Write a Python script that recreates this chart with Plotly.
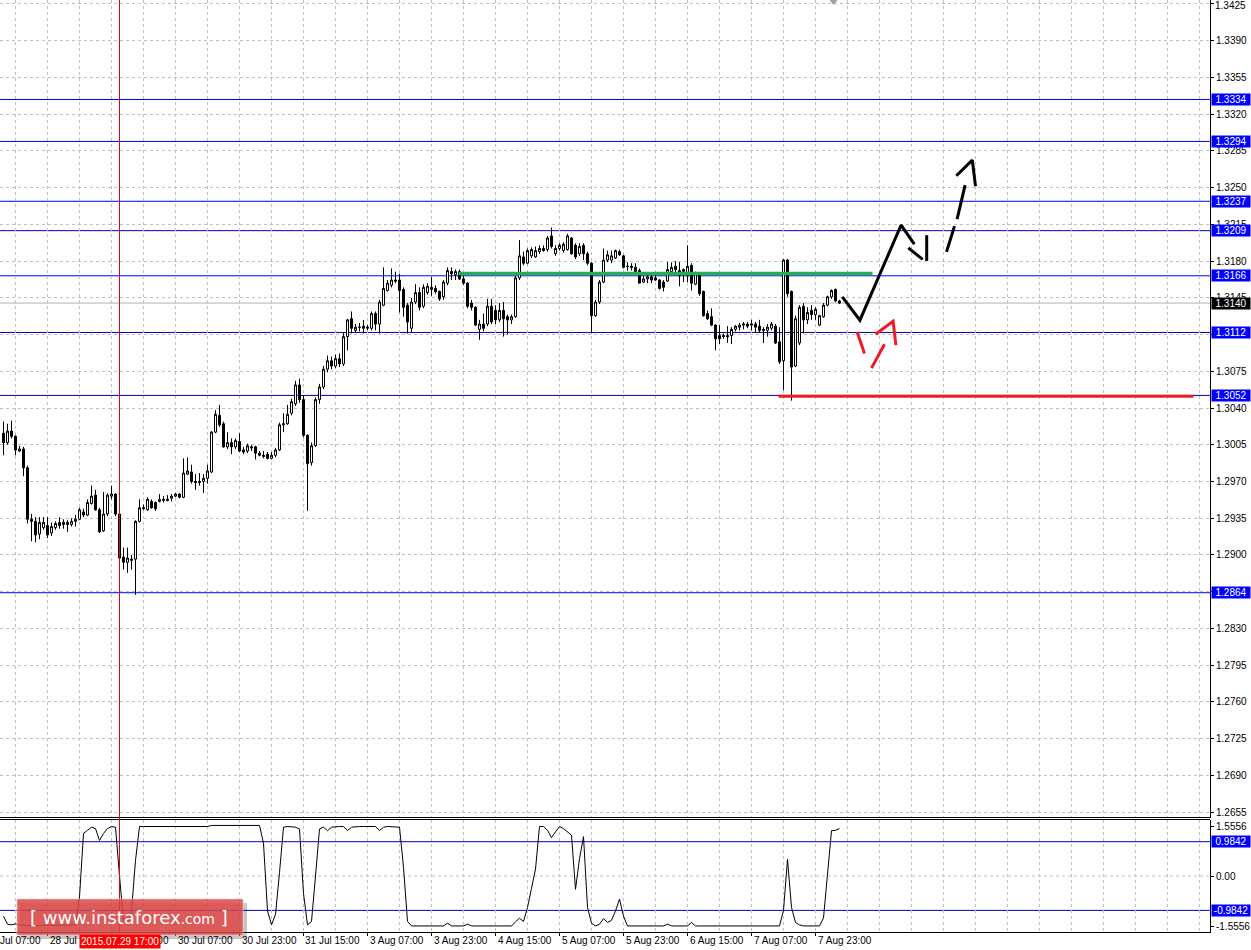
import plotly.graph_objects as go

# ---------------- data ----------------
OPEN = [1.3016,1.3007,1.3018,1.3013,1.2999,1.3001,1.2983,1.2934,1.2932,1.2920,
        1.2926,1.2928,1.2921,1.2926,1.2931,1.2929,1.2931,1.2929,1.2932,1.2934,
        1.2941,1.2938,1.2949,1.2957,1.2943,1.2923,1.2939,1.2956,1.2958,1.2939,
        1.2898,1.2893,1.2896,1.2896,1.2932,1.2944,1.2943,1.2951,1.2950,1.2951,
        1.2952,1.2953,1.2954,1.2956,1.2958,1.2955,1.2977,1.2979,1.2970,1.2969,
        1.2970,1.2973,1.2979,1.3017,1.3033,1.3025,1.3003,1.3007,1.3003,1.3008,
        1.3000,1.2999,1.3003,1.3003,1.2997,1.2995,1.2996,1.2992,1.2995,1.3000,
        1.3024,1.3025,1.3035,1.3044,1.3062,1.3048,1.3014,1.2988,1.3004,1.3048,
        1.3060,1.3077,1.3085,1.3080,1.3087,1.3082,1.3108,1.3125,1.3114,1.3117,
        1.3118,1.3116,1.3116,1.3130,1.3120,1.3138,1.3152,1.3157,1.3162,1.3162,
        1.3153,1.3138,1.3116,1.3141,1.3150,1.3137,1.3150,1.3155,1.3154,1.3151,
        1.3146,1.3159,1.3170,1.3167,1.3170,1.3163,1.3159,1.3140,1.3136,1.3115,
        1.3120,1.3120,1.3137,1.3133,1.3124,1.3133,1.3127,1.3124,1.3127,1.3164,
        1.3184,1.3178,1.3185,1.3184,1.3189,1.3192,1.3191,1.3204,1.3187,1.3192,
        1.3190,1.3191,1.3202,1.3195,1.3187,1.3195,1.3187,1.3178,1.3128,1.3141,
        1.3160,1.3181,1.3181,1.3183,1.3189,1.3185,1.3175,1.3175,1.3174,1.3171,
        1.3160,1.3163,1.3165,1.3164,1.3162,1.3160,1.3161,1.3170,1.3175,1.3171,
        1.3170,1.3166,1.3176,1.3158,1.3167,1.3151,1.3130,1.3127,1.3119,1.3109,
        1.3108,1.3109,1.3109,1.3115,1.3117,1.3119,1.3120,1.3119,1.3120,1.3118,
        1.3115,1.3114,1.3116,1.3118,1.3103,1.3085,1.3181,1.3151,1.3080,1.3102,
        1.3137,1.3124,1.3133,1.3129,1.3119,1.3127,1.3138,1.3146,1.3153,1.3142]
HIGH = [1.3027,1.3025,1.3028,1.3014,1.3004,1.3003,1.2985,1.2939,1.2936,1.2936,
        1.2936,1.2936,1.2931,1.2932,1.2936,1.2934,1.2933,1.2935,1.2938,1.2945,
        1.2944,1.2953,1.2966,1.2962,1.2945,1.2960,1.2959,1.2966,1.2959,1.2941,
        1.2907,1.2907,1.2900,1.2933,1.2953,1.2948,1.2955,1.2953,1.2951,1.2958,
        1.2956,1.2957,1.2958,1.2959,1.2959,1.2992,1.2993,1.2986,1.2977,1.2978,
        1.2977,1.2986,1.3018,1.3038,1.3043,1.3027,1.3017,1.3011,1.3011,1.3016,
        1.3003,1.3006,1.3005,1.3004,1.2999,1.2999,1.2998,1.2998,1.3002,1.3026,
        1.3035,1.3043,1.3049,1.3066,1.3068,1.3052,1.3015,1.3007,1.3050,1.3063,
        1.3080,1.3090,1.3089,1.3091,1.3092,1.3112,1.3125,1.3132,1.3120,1.3121,
        1.3124,1.3119,1.3132,1.3132,1.3143,1.3174,1.3162,1.3173,1.3170,1.3168,
        1.3155,1.3140,1.3145,1.3158,1.3155,1.3158,1.3159,1.3165,1.3157,1.3152,
        1.3162,1.3174,1.3174,1.3172,1.3172,1.3166,1.3160,1.3143,1.3137,1.3124,
        1.3130,1.3144,1.3144,1.3138,1.3140,1.3141,1.3129,1.3129,1.3166,1.3200,
        1.3189,1.3192,1.3193,1.3194,1.3195,1.3195,1.3204,1.3212,1.3195,1.3197,
        1.3198,1.3206,1.3203,1.3197,1.3197,1.3197,1.3189,1.3179,1.3143,1.3162,
        1.3192,1.3190,1.3190,1.3191,1.3191,1.3186,1.3179,1.3178,1.3178,1.3173,
        1.3166,1.3168,1.3168,1.3167,1.3163,1.3162,1.3179,1.3179,1.3180,1.3179,
        1.3173,1.3195,1.3178,1.3170,1.3168,1.3152,1.3133,1.3135,1.3120,1.3119,
        1.3111,1.3118,1.3117,1.3119,1.3121,1.3122,1.3122,1.3124,1.3122,1.3124,
        1.3117,1.3120,1.3122,1.3120,1.3117,1.3182,1.3182,1.3152,1.3128,1.3138,
        1.3140,1.3136,1.3138,1.3136,1.3129,1.3140,1.3147,1.3153,1.3154,1.3143]
LOW = [1.2995,1.3005,1.3011,1.2995,1.2998,1.2975,1.2930,1.2913,1.2912,1.2915,
       1.2924,1.2916,1.2918,1.2924,1.2925,1.2925,1.2922,1.2927,1.2927,1.2933,
       1.2936,1.2937,1.2948,1.2942,1.2921,1.2922,1.2937,1.2953,1.2937,1.2895,
       1.2886,1.2883,1.2886,1.2862,1.2931,1.2943,1.2942,1.2944,1.2942,1.2950,
       1.2950,1.2951,1.2951,1.2955,1.2954,1.2954,1.2976,1.2968,1.2962,1.2966,
       1.2959,1.2968,1.2978,1.3016,1.3022,1.3002,1.3001,1.2996,1.3001,1.2998,
       1.2996,1.2997,1.2999,1.2991,1.2994,1.2992,1.2991,1.2991,1.2993,1.2999,
       1.3017,1.3024,1.3033,1.3042,1.3045,1.3012,1.2942,1.2985,1.3003,1.3044,
       1.3058,1.3074,1.3077,1.3078,1.3079,1.3080,1.3095,1.3111,1.3112,1.3113,
       1.3111,1.3114,1.3114,1.3114,1.3111,1.3137,1.3151,1.3155,1.3159,1.3131,
       1.3127,1.3111,1.3112,1.3139,1.3133,1.3135,1.3148,1.3147,1.3149,1.3142,
       1.3143,1.3157,1.3162,1.3162,1.3162,1.3157,1.3135,1.3133,1.3118,1.3105,
       1.3113,1.3118,1.3120,1.3120,1.3122,1.3108,1.3110,1.3120,1.3126,1.3162,
       1.3176,1.3177,1.3183,1.3183,1.3187,1.3189,1.3189,1.3192,1.3185,1.3190,
       1.3188,1.3190,1.3186,1.3182,1.3185,1.3181,1.3176,1.3111,1.3127,1.3139,
       1.3159,1.3179,1.3178,1.3182,1.3185,1.3173,1.3171,1.3171,1.3168,1.3159,
       1.3159,1.3159,1.3159,1.3161,1.3153,1.3151,1.3160,1.3168,1.3167,1.3156,
       1.3160,1.3160,1.3152,1.3157,1.3147,1.3127,1.3124,1.3118,1.3095,1.3101,
       1.3106,1.3102,1.3101,1.3113,1.3114,1.3115,1.3116,1.3114,1.3112,1.3112,
       1.3102,1.3108,1.3114,1.3101,1.3082,1.3057,1.3146,1.3047,1.3079,1.3100,
       1.3111,1.3120,1.3124,1.3124,1.3118,1.3126,1.3137,1.3144,1.3141,1.3139]
CLOSE = [1.3007,1.3018,1.3013,1.3000,1.3001,1.2983,1.2934,1.2932,1.2919,1.2931,
         1.2931,1.2919,1.2927,1.2930,1.2928,1.2931,1.2929,1.2932,1.2934,1.2943,
         1.2938,1.2950,1.2956,1.2943,1.2922,1.2939,1.2957,1.2958,1.2939,1.2897,
         1.2893,1.2897,1.2895,1.2932,1.2945,1.2945,1.2953,1.2945,1.2944,1.2953,
         1.2953,1.2952,1.2956,1.2958,1.2955,1.2978,1.2980,1.2970,1.2969,1.2970,
         1.2973,1.2980,1.3017,1.3034,1.3024,1.3003,1.3007,1.3003,1.3009,1.2999,
         1.2998,1.3004,1.3002,1.2997,1.2995,1.2994,1.2992,1.2995,1.3000,1.3024,
         1.3025,1.3034,1.3046,1.3062,1.3048,1.3014,1.2987,1.3004,1.3048,1.3060,
         1.3077,1.3085,1.3080,1.3087,1.3082,1.3108,1.3124,1.3116,1.3117,1.3117,
         1.3116,1.3117,1.3130,1.3120,1.3141,1.3154,1.3159,1.3162,1.3161,1.3152,
         1.3136,1.3122,1.3141,1.3150,1.3136,1.3155,1.3156,1.3153,1.3151,1.3144,
         1.3160,1.3171,1.3168,1.3170,1.3163,1.3159,1.3137,1.3136,1.3119,1.3120,
         1.3116,1.3137,1.3122,1.3124,1.3133,1.3125,1.3124,1.3127,1.3164,1.3185,
         1.3178,1.3190,1.3191,1.3190,1.3192,1.3190,1.3202,1.3194,1.3192,1.3195,
         1.3196,1.3204,1.3187,1.3184,1.3194,1.3187,1.3178,1.3128,1.3141,1.3160,
         1.3181,1.3186,1.3185,1.3190,1.3186,1.3174,1.3175,1.3174,1.3170,1.3159,
         1.3163,1.3165,1.3162,1.3162,1.3154,1.3155,1.3172,1.3174,1.3172,1.3166,
         1.3172,1.3175,1.3159,1.3168,1.3149,1.3128,1.3125,1.3119,1.3106,1.3106,
         1.3109,1.3108,1.3115,1.3118,1.3119,1.3120,1.3118,1.3120,1.3117,1.3114,
         1.3114,1.3117,1.3120,1.3102,1.3084,1.3181,1.3149,1.3079,1.3125,1.3136,
         1.3124,1.3131,1.3129,1.3134,1.3128,1.3138,1.3146,1.3152,1.3142,1.3140]
BARS = list(range(len(CLOSE)))

INDICATOR = [-1.15,-1.38,-1.40,-1.37,-1.40,-1.42,-1.42,-1.42,-1.42,-1.42,
             -1.42,-1.42,-1.42,-1.42,-1.42,-1.42,-1.42,-1.42,-1.40,-0.60,
             1.22,1.31,1.40,1.36,1.02,1.22,1.36,1.42,1.40,0.00,
             -1.30,-1.40,-1.00,0.45,1.42,1.42,1.42,1.42,1.42,1.42,
             1.42,1.42,1.42,1.42,1.42,1.42,1.42,1.42,1.42,1.42,
             1.42,1.42,1.45,1.45,1.45,1.45,1.45,1.45,1.45,1.45,
             1.45,1.45,1.45,1.45,1.45,0.94,-1.00,-1.40,-1.10,0.10,
             1.40,1.42,1.42,1.40,1.35,-0.50,-1.40,-1.30,0.00,1.35,
             1.40,1.30,1.40,1.42,1.42,1.42,1.30,1.40,1.42,1.42,
             1.42,1.42,1.42,1.42,1.30,1.40,1.42,1.42,1.42,1.40,
             0.25,-1.30,-1.43,-1.43,-1.43,-1.43,-1.43,-1.43,-1.43,-1.43,
             -1.43,-1.35,-1.43,-1.43,-1.43,-1.43,-1.38,-1.43,-1.43,-1.43,
             -1.43,-1.43,-1.43,-1.43,-1.43,-1.43,-1.43,-1.43,-1.31,-1.21,
             -1.30,-0.90,-0.35,0.20,1.42,1.42,1.31,1.10,1.27,1.42,
             1.36,1.27,1.17,-0.38,0.50,1.13,-0.90,-1.35,-1.43,-1.38,
             -1.22,-1.33,-1.27,-1.00,-0.66,-1.15,-1.43,-1.43,-1.43,-1.43,
             -1.43,-1.43,-1.43,-1.43,-1.43,-1.43,-1.38,-1.43,-1.43,-1.43,
             -1.43,-1.43,-1.33,-1.43,-1.43,-1.43,-1.43,-1.43,-1.43,-1.43,
             -1.43,-1.43,-1.43,-1.43,-1.43,-1.43,-1.43,-1.43,-1.43,-1.43,
             -1.43,-1.43,-1.43,-1.43,-1.43,-0.98,0.48,-0.90,-1.33,-1.40,
             -1.43,-1.43,-1.43,-1.43,-1.43,-1.20,-0.05,1.30,1.31,1.36]

PRICE_TICKS = [1.2655,1.2690,1.2725,1.2760,1.2795,1.2830,1.2865,1.2900,1.2935,1.2970,
               1.3005,1.3040,1.3075,1.3110,1.3145,1.3180,1.3215,1.3250,1.3285,1.3320,
               1.3355,1.3390,1.3425]
LEVELS_BLUE = [1.3334, 1.3294, 1.3237, 1.3166, 1.2864]
LEVELS_DARK = [1.3209, 1.3112, 1.3052]
CURRENT_PRICE = 1.3140
IND_LEVELS = [0.9842, -0.9842]
IND_TICK_TEXT = ["1.5556", "0.00", "-1.5556"]
IND_TICK_POS = [1.421, 0.0, -1.432]

TIME_TICK_BARS = [-5, 11, 27, 43, 59, 75, 91, 107, 123, 139, 155, 171, 187, 203]
TIME_TICK_TEXT = ["28 Jul 07:00", "28 Jul 23:00", "29 Jul 15:00", "30 Jul 07:00",
                  "30 Jul 23:00", "31 Jul 15:00", "3 Aug 07:00", "3 Aug 23:00",
                  "4 Aug 15:00", "5 Aug 07:00", "5 Aug 23:00", "6 Aug 15:00",
                  "7 Aug 07:00", "7 Aug 23:00"]
CROSS_BAR = 29
CROSS_TEXT = "2015.07.29 17:00"
SHIFT_MARK_BAR = 207.5

GREEN_SEG_BARS = [113.75, 217.25]
GREEN_SEG_PRICE = 1.31682
RED_SEG_BARS = [193.75, 297.5]
RED_SEG_PRICE = 1.30512

BLACK_STROKES = [
    ([209.7, 214.1, 224.4, 227.7], [1.31459, 1.31237, 1.32143, 1.31962]),
    ([226.2, 229.8], [1.31926, 1.31816]),
    ([230.8, 230.8], [1.32047, 1.31802]),
    ([235.75, 237.75], [1.31888, 1.32133]),
    ([238.4, 240.4], [1.32200, 1.32524]),
    ([238.2, 242.2, 243.0], [1.32613, 1.32762, 1.32515]),
]
RED_STROKES = [
    ([213.4, 215.25], [1.31125, 1.30919]),
    ([217.0, 220.25], [1.30782, 1.31008]),
    ([218.0, 222.4, 223.1], [1.31103, 1.31227, 1.30999]),
]

# ---------------- layout geometry ----------------
W, H = 1251, 950
PW, PH = 1210, 932          # plot area in px
PX_PER_BAR = 4.0
MAIN_BOTTOM_PX = 817.5
IND_TOP_PX = 819.5
X_RANGE = [-0.875, -0.875 + PW / PX_PER_BAR]
FONT = "Liberation Sans, Arial, sans-serif"
GRID = "#c0c0c0"


def py(px):
    return 1 - px / PH


def px_x(px):
    return px / PW


def bar_to_paper(b):
    return (b - X_RANGE[0]) * PX_PER_BAR / PW


fig = go.Figure()

fig.add_trace(go.Candlestick(
    x=BARS, open=OPEN, high=HIGH, low=LOW, close=CLOSE,
    increasing=dict(line=dict(color="black", width=1), fillcolor="white"),
    decreasing=dict(line=dict(color="black", width=1), fillcolor="black"),
    whiskerwidth=0, showlegend=False, hoverinfo="skip",
    xaxis="x", yaxis="y"))

fig.add_trace(go.Scatter(x=BARS, y=INDICATOR, mode="lines",
                         line=dict(color="black", width=1),
                         showlegend=False, hoverinfo="skip",
                         xaxis="x", yaxis="y2"))

# green & red horizontal segments
fig.add_trace(go.Scatter(x=GREEN_SEG_BARS, y=[GREEN_SEG_PRICE] * 2, mode="lines",
                         line=dict(color="#22b14c", width=3.5), showlegend=False,
                         hoverinfo="skip", xaxis="x", yaxis="y"))
fig.add_trace(go.Scatter(x=RED_SEG_BARS, y=[RED_SEG_PRICE] * 2, mode="lines",
                         line=dict(color="#ed1c24", width=3), showlegend=False,
                         hoverinfo="skip", xaxis="x", yaxis="y"))

for bx, by in BLACK_STROKES:
    fig.add_trace(go.Scatter(x=bx, y=by, mode="lines",
                             line=dict(color="black", width=3), showlegend=False,
                             hoverinfo="skip", xaxis="x", yaxis="y"))
for bx, by in RED_STROKES:
    fig.add_trace(go.Scatter(x=bx, y=by, mode="lines",
                             line=dict(color="#ed1c24", width=3), showlegend=False,
                             hoverinfo="skip", xaxis="x", yaxis="y"))

shapes = []
annotations = []

# horizontal levels
for lv in LEVELS_BLUE + LEVELS_DARK:
    col = "#0000ff" if lv in LEVELS_BLUE else "#0000b0"
    shapes.append(dict(type="line", xref="paper", yref="y", x0=0, x1=1, y0=lv, y1=lv,
                       line=dict(color=col, width=1), layer="below"))
    annotations.append(dict(xref="paper", x=1, xanchor="left", xshift=1, yref="y", y=lv,
                            yanchor="middle", text=f"{lv:.4f}", showarrow=False,
                            font=dict(color="white", size=10, family=FONT),
                            bgcolor="#0000ff", width=38, height=11, borderpad=0,
                            align="center"))
shapes.append(dict(type="line", xref="paper", yref="y", x0=0, x1=1,
                   y0=CURRENT_PRICE, y1=CURRENT_PRICE,
                   line=dict(color="#b4b4b4", width=1), layer="below"))
annotations.append(dict(xref="paper", x=1, xanchor="left", xshift=1, yref="y",
                        y=CURRENT_PRICE, yanchor="middle", text=f"{CURRENT_PRICE:.4f}",
                        showarrow=False, font=dict(color="white", size=10, family=FONT),
                        bgcolor="black", width=38, height=11, borderpad=0, align="center"))

# indicator levels
for lv in IND_LEVELS:
    shapes.append(dict(type="line", xref="paper", yref="y2", x0=0, x1=1, y0=lv, y1=lv,
                       line=dict(color="#0000c8", width=1), layer="below"))
    annotations.append(dict(xref="paper", x=1, xanchor="left", xshift=1, yref="y2", y=lv,
                            yanchor="middle", text=f"{lv:.4f}", showarrow=False,
                            font=dict(color="white", size=10, family=FONT),
                            bgcolor="#0000ff", width=38, height=11, borderpad=0,
                            align="center"))
shapes.append(dict(type="line", xref="paper", yref="y2", x0=0, x1=1, y0=0, y1=0,
                   line=dict(color=GRID, width=1, dash="3px,3px"), layer="below"))

# panel borders
shapes.append(dict(type="line", xref="paper", yref="paper", x0=0, x1=1,
                   y0=py(MAIN_BOTTOM_PX), y1=py(MAIN_BOTTOM_PX),
                   line=dict(color="black", width=1)))
shapes.append(dict(type="line", xref="paper", yref="paper", x0=0, x1=1,
                   y0=py(IND_TOP_PX), y1=py(IND_TOP_PX),
                   line=dict(color="black", width=1)))

# chart-shift marker at the top
sx = bar_to_paper(SHIFT_MARK_BAR) * PW
shapes.append(dict(type="path", xref="paper", yref="paper",
                   path=f"M {px_x(sx - 4)} {py(0)} L {px_x(sx + 4)} {py(0)} L {px_x(sx)} {py(5)} Z",
                   fillcolor="#a0a0a0", line=dict(width=0)))

# crosshair
shapes.append(dict(type="line", xref="x", yref="paper", x0=CROSS_BAR, x1=CROSS_BAR,
                   y0=0, y1=1, line=dict(color="#c81010", width=1), layer="above"))

# time tick marks + labels
for b, t in zip(TIME_TICK_BARS, TIME_TICK_TEXT):
    xp = bar_to_paper(b)
    shapes.append(dict(type="line", xref="paper", yref="paper", x0=xp, x1=xp,
                       y0=0, y1=-4 / PH, line=dict(color="black", width=1)))
    annotations.append(dict(xref="paper", x=xp, xanchor="left", xshift=0, yref="paper", y=0,
                            yanchor="top", yshift=-1, text=t, showarrow=False,
                            font=dict(color="black", size=10, family=FONT)))

# top price label (clamped inside the window like the terminal does)
TOP_TICK = PRICE_TICKS[-1]
annotations.append(dict(xref="paper", x=1, xanchor="left", xshift=3, yref="y", y=TOP_TICK,
                        yanchor="middle", yshift=-2, text=f"{TOP_TICK:.4f}", showarrow=False,
                        font=dict(color="black", size=10, family=FONT)))
PRICE_TICK_TEXT = [f"{v:.4f}" for v in PRICE_TICKS[:-1]] + [""]

# logo
shapes.append(dict(type="rect", xref="paper", yref="paper",
                   x0=px_x(20), x1=px_x(247), y0=py(939), y1=py(903),
                   fillcolor="rgba(0,0,0,0.22)", line=dict(width=0), layer="above"))
shapes.append(dict(type="rect", xref="paper", yref="paper",
                   x0=px_x(17), x1=px_x(243), y0=py(935), y1=py(899),
                   fillcolor="rgba(222,70,70,0.85)",
                   line=dict(color="rgba(255,200,200,0.6)", width=1), layer="above"))
annotations.append(dict(xref="paper", yref="paper", x=px_x(129), y=py(917),
                        xanchor="center", yanchor="middle", showarrow=False,
                        text="[ www.instaforex<span style='font-size:14px'>.com</span> ]",
                        font=dict(color="white", size=18, family="DejaVu Sans, Verdana, sans-serif")))

# crosshair date label
annotations.append(dict(xref="paper", x=bar_to_paper(CROSS_BAR), xanchor="center",
                        yref="paper", y=0, yanchor="top", yshift=-2, text=CROSS_TEXT,
                        showarrow=False, font=dict(color="white", size=10, family=FONT),
                        bgcolor="#ff0000", borderpad=1))

fig.update_layout(
    width=W, height=H,
    margin=dict(l=0, r=W - PW, t=0, b=H - PH, pad=0),
    paper_bgcolor="white", plot_bgcolor="white",
    showlegend=False, hovermode=False,
    boxgap=0, boxgroupgap=0.5,
    shapes=shapes, annotations=annotations,
    xaxis=dict(domain=[0, 1], range=X_RANGE, anchor="y2",
               rangeslider=dict(visible=False),
               tickmode="linear", tick0=3, dtick=8, showticklabels=False, ticks="",
               showgrid=True, gridcolor=GRID, griddash="3px,3px", gridwidth=1,
               showline=True, linecolor="black", linewidth=1, zeroline=False,
               automargin=False, fixedrange=True),
    yaxis=dict(domain=[py(MAIN_BOTTOM_PX), 1], range=[1.26498, 1.34288], anchor="x",
               side="right", tickmode="array", tickvals=PRICE_TICKS,
               ticktext=PRICE_TICK_TEXT,
               ticks="outside", ticklen=3, tickcolor="black",
               tickfont=dict(size=10, color="black", family=FONT),
               ticklabeloverflow="allow",
               showgrid=True, gridcolor=GRID, griddash="3px,3px", gridwidth=1,
               showline=True, linecolor="black", linewidth=1, zeroline=False,
               automargin=False, fixedrange=True),
    yaxis2=dict(domain=[0, py(IND_TOP_PX)], range=[-1.6034, 1.6205], anchor="x",
                side="right", tickmode="array", tickvals=IND_TICK_POS,
                ticktext=IND_TICK_TEXT, ticks="outside", ticklen=3, tickcolor="black",
                tickfont=dict(size=10, color="black", family=FONT),
                ticklabeloverflow="allow",
                showgrid=False, showline=True, linecolor="black", linewidth=1,
                zeroline=False, automargin=False, fixedrange=True),
)

fig.write_html("out.html", config={"displayModeBar": False},
               post_script="document.body.style.margin='0';document.body.style.overflow='hidden';")
